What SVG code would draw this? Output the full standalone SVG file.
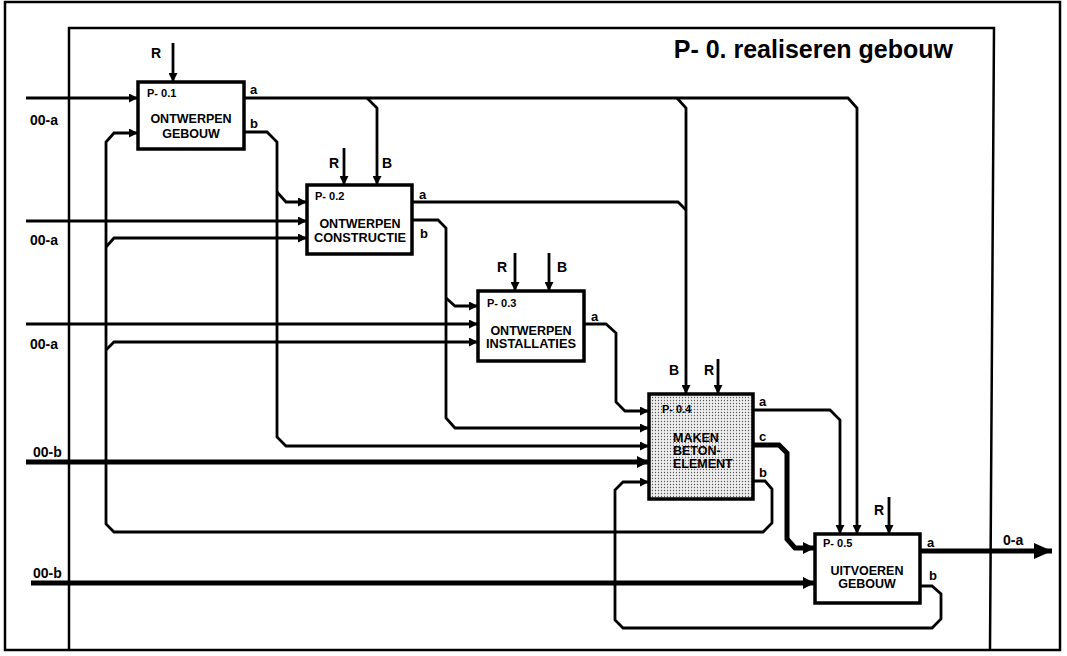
<svg xmlns="http://www.w3.org/2000/svg" width="1067" height="656" viewBox="0 0 1067 656">
<style>
.ln{fill:none;stroke:#000;stroke-width:2.8;stroke-linejoin:miter}
.tk{stroke-width:5}
.fr{fill:none;stroke:#000;stroke-width:2.5}
.bx{fill:#fff;stroke:#000;stroke-width:3.5}
.st{fill:url(#dots);stroke:#000;stroke-width:3.5}
text{font-family:"Liberation Sans",Arial,sans-serif;font-weight:bold;fill:#000}
.id{font-size:11px}
.nm{font-size:12.5px;text-anchor:middle}
.nl{font-size:12.5px}
.lb{font-size:13px}
.rb{font-size:14px}
.io{font-size:14px}
</style>
<defs>
<marker id="ar" markerUnits="userSpaceOnUse" markerWidth="10" markerHeight="9" refX="9" refY="4.5" orient="auto"><path d="M0,0 L9,4.5 L0,9 z" fill="#000"/></marker>
<marker id="art" markerUnits="userSpaceOnUse" markerWidth="13" markerHeight="12" refX="12" refY="6" orient="auto"><path d="M0,0 L12,6 L0,12 z" fill="#000"/></marker>
<marker id="arb" markerUnits="userSpaceOnUse" markerWidth="19" markerHeight="16" refX="18" refY="8" orient="auto"><path d="M0,0 L18,8 L0,16 z" fill="#000"/></marker>
<pattern id="dots" width="3" height="3" patternUnits="userSpaceOnUse"><rect width="3" height="3" fill="#eeeeee"/><circle cx="1.5" cy="1.5" r="0.65" fill="#555"/></pattern>
</defs>

<g id="frame">
<rect class="fr" x="5" y="2" width="1055" height="648" stroke-width="2"/>
<path class="fr" d="M69,650 L69,28 L994,28 L990,650"/>
<text x="953" y="58" font-size="25" text-anchor="end">P- 0. realiseren gebouw</text>
</g>

<g id="connectors">
<!-- external inputs -->
<path class="ln" d="M26,98 L138,98" marker-end="url(#ar)"/>
<path class="ln" d="M26,221 L307,221" marker-end="url(#ar)"/>
<path class="ln" d="M26,324 L478,324" marker-end="url(#ar)"/>
<path class="ln tk" d="M26,462 L649,462" marker-end="url(#art)"/>
<path class="ln tk" d="M31,583 L815,583" marker-end="url(#art)"/>
<text class="io" x="30" y="125">00-a</text>
<text class="io" x="30" y="245">00-a</text>
<text class="io" x="30" y="349">00-a</text>
<text class="io" x="33" y="457">00-b</text>
<text class="io" x="33" y="578">00-b</text>

<!-- B1 a -->
<path class="ln" d="M244,98 L848,98 L857,108 L857,534" marker-end="url(#ar)"/>
<path class="ln" d="M367,98 L377,108 L377,185" marker-end="url(#ar)"/>
<path class="ln" d="M677,98 L686,108 L686,394" marker-end="url(#ar)"/>
<text class="lb" x="250" y="94">a</text>
<!-- B2 a -->
<path class="ln" d="M412,202 L678,202 L686,210"/>
<text class="lb" x="419" y="199">a</text>
<!-- B1 b -->
<path class="ln" d="M244,132 L267,132 L277,142 L277,437 L286,446 L649,446" marker-end="url(#ar)"/>
<path class="ln" d="M277,192 L286,202 L307,202" marker-end="url(#ar)"/>
<text class="lb" x="250" y="128">b</text>
<!-- B2 b -->
<path class="ln" d="M412,220 L438,220 L446,228 L446,418 L455,428 L649,428" marker-end="url(#ar)"/>
<path class="ln" d="M446,298 L455,306 L478,306" marker-end="url(#ar)"/>
<text class="lb" x="420" y="238">b</text>
<!-- B3 a -->
<path class="ln" d="M584,324 L606,324 L616,333 L616,402 L625,411 L649,411" marker-end="url(#ar)"/>
<text class="lb" x="591" y="321">a</text>
<!-- B4 b feedback -->
<path class="ln" d="M753,481 L765,481 L772,489 L772,523 L763,532 L114,532 L106,524 L106,142 L114,133 L138,133" marker-end="url(#ar)"/>
<path class="ln" d="M106,247 L114,238 L307,238" marker-end="url(#ar)"/>
<path class="ln" d="M106,350 L114,342 L478,342" marker-end="url(#ar)"/>
<text class="lb" x="759" y="477">b</text>
<!-- B4 a -->
<path class="ln" d="M753,410 L830,410 L840,420 L840,534" marker-end="url(#ar)"/>
<text class="lb" x="759" y="406">a</text>
<!-- B4 c -->
<path class="ln tk" d="M753,445 L779,445 L787,453 L787,539 L795,548 L815,548" marker-end="url(#art)"/>
<text class="lb" x="759" y="441">c</text>
<!-- B5 b feedback -->
<path class="ln" d="M920,586 L932,586 L941,594 L941,619 L932,628 L623,628 L615,620 L615,490 L623,482 L649,482" marker-end="url(#ar)"/>
<text class="lb" x="929" y="580">b</text>
<!-- B5 a output -->
<path class="ln tk" d="M920,551 L1052,551" marker-end="url(#arb)"/>
<text class="lb" x="927" y="547">a</text>
<text class="io" x="1003" y="545">0-a</text>

<!-- controls -->
<path class="ln" d="M173,43 L173,82" marker-end="url(#ar)"/>
<text class="rb" x="151" y="58">R</text>
<path class="ln" d="M344,148 L344,185" marker-end="url(#ar)"/>
<text class="rb" x="329" y="168">R</text>
<text class="rb" x="382" y="168">B</text>
<path class="ln" d="M515,253 L515,291" marker-end="url(#ar)"/>
<path class="ln" d="M549,253 L549,291" marker-end="url(#ar)"/>
<text class="rb" x="497" y="272">R</text>
<text class="rb" x="557" y="272">B</text>
<path class="ln" d="M718,359 L718,394" marker-end="url(#ar)"/>
<text class="rb" x="669" y="375">B</text>
<text class="rb" x="704" y="375">R</text>
<path class="ln" d="M889,497 L889,534" marker-end="url(#ar)"/>
<text class="rb" x="874" y="515">R</text>
</g>

<g id="p01">
<rect class="bx" x="138" y="82" width="106" height="67"/>
<text class="id" x="147" y="97">P- 0.1</text>
<text class="nm" x="191" y="123">ONTWERPEN</text>
<text class="nm" x="191" y="138">GEBOUW</text>
</g>
<g id="p02">
<rect class="bx" x="307" y="185" width="105" height="69"/>
<text class="id" x="315" y="200">P- 0.2</text>
<text class="nm" x="360" y="228">ONTWERPEN</text>
<text class="nm" x="360" y="242" textLength="92" lengthAdjust="spacingAndGlyphs">CONSTRUCTIE</text>
</g>
<g id="p03">
<rect class="bx" x="478" y="291" width="106" height="70"/>
<text class="id" x="487" y="307">P- 0.3</text>
<text class="nm" x="531" y="335">ONTWERPEN</text>
<text class="nm" x="531" y="348" textLength="90" lengthAdjust="spacingAndGlyphs">INSTALLATIES</text>
</g>
<g id="p04">
<rect class="st" x="649" y="394" width="104" height="105"/>
<text class="id" x="662" y="413">P- 0.4</text>
<text class="nl" x="673" y="442">MAKEN</text>
<text class="nl" x="673" y="455">BETON-</text>
<text class="nl" x="673" y="468">ELEMENT</text>
</g>
<g id="p05">
<rect class="bx" x="815" y="534" width="105" height="69"/>
<text class="id" x="823" y="547">P- 0.5</text>
<text class="nm" x="867" y="575">UITVOEREN</text>
<text class="nm" x="867" y="588">GEBOUW</text>
</g>
</svg>
